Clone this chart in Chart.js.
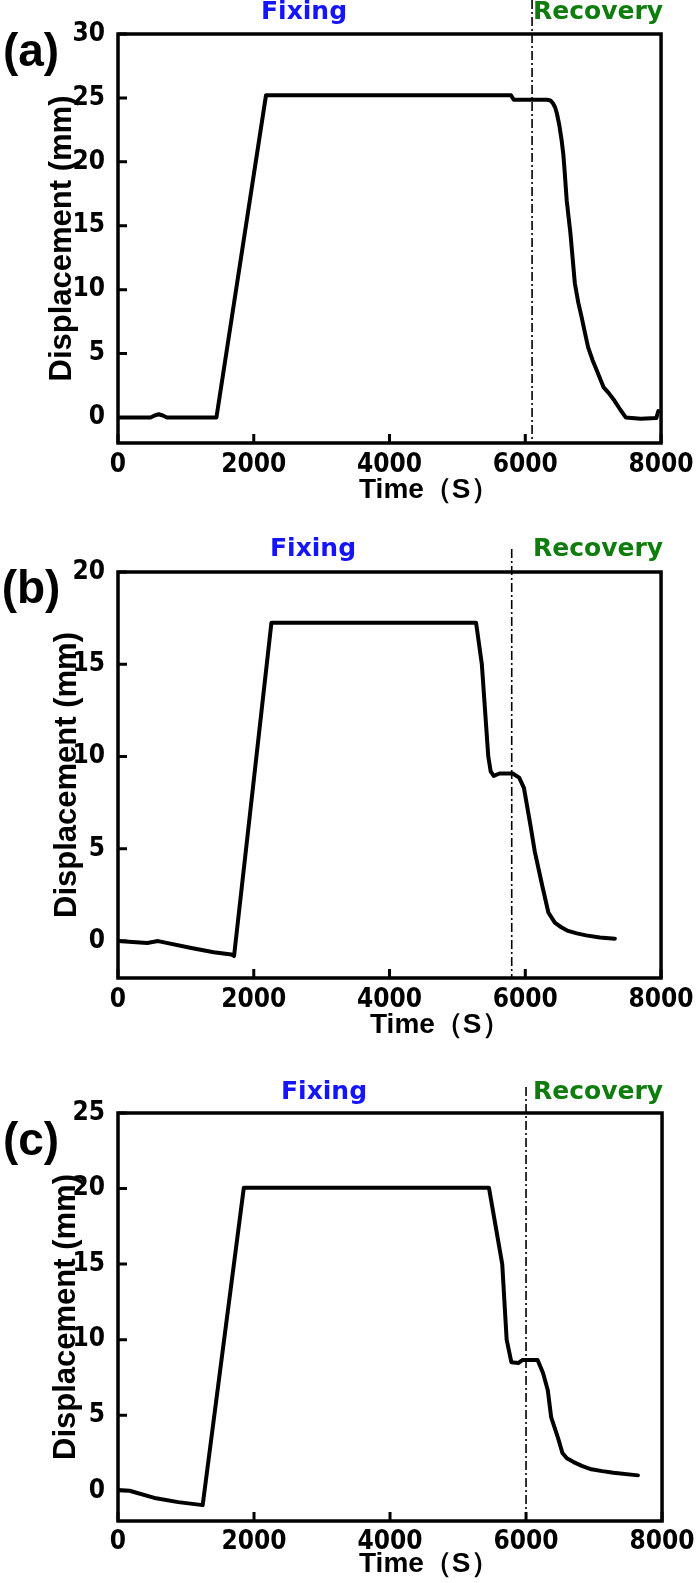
<!DOCTYPE html>
<html>
<head>
<meta charset="utf-8">
<script src="https://cdn.jsdelivr.net/npm/chart.js@4.4.1/dist/chart.umd.min.js"></script>
<style>
  html, body { margin: 0; padding: 0; background: #fff; }
  body { width: 700px; height: 1583px; position: relative; overflow: hidden; }
  .panel { position: absolute; left: 0; width: 700px; }
</style>
</head>
<body>
<div class="panel" style="top:0;height:520px"><canvas id="chartA"></canvas></div>
<div class="panel" style="top:520px;height:530px"><canvas id="chartB"></canvas></div>
<div class="panel" style="top:1050px;height:533px"><canvas id="chartC"></canvas></div>
<script>
const FONT = '"Liberation Sans", Arial, Helvetica, sans-serif';
const WIDE = '"DejaVu Sans", Verdana, sans-serif';
const TICKS = '"DejaVu Sans Condensed", "DejaVu Sans", sans-serif';

// shared time axis (s)
const xTicks = [0, 2000, 4000, 6000, 8000];

// (a)
const timeA = [0, 480, 540, 600, 660, 720, 1450, 2180, 5790, 5830, 6320, 6370, 6405, 6440, 6465, 6500, 6535, 6560, 6575, 6610, 6665, 6730, 6780, 6830, 6880, 6925, 6990, 7055, 7155, 7230, 7315, 7400, 7480, 7700, 7930, 7960];
const dispA = [0, 0, 0.15, 0.25, 0.15, 0, 0, 25.2, 25.2, 24.85, 24.85, 24.8, 24.6, 24.25, 23.8, 22.9, 21.7, 20.6, 19.6, 17.0, 14.4, 10.5, 9.0, 7.85, 6.6, 5.5, 4.5, 3.65, 2.35, 1.9, 1.3, 0.6, 0, -0.1, -0.05, 0.5];
const yTicksA = [0, 5, 10, 15, 20, 25, 30];
const yRangeA = [-2, 30];
const markerA = 6100;

// (b)
const timeB = [0, 430, 590, 1080, 1410, 1670, 1710, 2260, 5275, 5360, 5455, 5490, 5535, 5620, 5815, 5910, 5980, 6075, 6140, 6250, 6340, 6435, 6530, 6630, 6760, 6895, 7100, 7320];
const dispB = [0, -0.1, 0, -0.37, -0.6, -0.73, -0.8, 17.25, 17.25, 15.0, 10.0, 9.2, 8.95, 9.08, 9.08, 8.86, 8.3, 6.3, 4.85, 3.0, 1.55, 1.0, 0.75, 0.55, 0.42, 0.31, 0.2, 0.13];
const yTicksB = [0, 5, 10, 15, 20];
const yRangeB = [-2, 20];
const markerB = 5800;

// (c)
const timeC = [0, 170, 560, 885, 1245, 1850, 5455, 5650, 5715, 5785, 5885, 5945, 6170, 6250, 6320, 6370, 6470, 6535, 6600, 6700, 6820, 6960, 7120, 7285, 7645];
const dispC = [0.05, 0, -0.5, -0.75, -0.95, 20.05, 20.05, 15.0, 10.0, 8.5, 8.45, 8.65, 8.65, 7.8, 6.65, 4.85, 3.5, 2.5, 2.15, 1.9, 1.65, 1.42, 1.3, 1.2, 1.02];
const yTicksC = [0, 5, 10, 15, 20, 25];
const yRangeC = [-2, 25];
const markerC = 6000;

// page layout of each panel (canvas-local pixels)
const panels = [
  { id: 'chartA', tag: '(a)', time: timeA, disp: dispA, yTicks: yTicksA, yRange: yRangeA, marker: markerA,
    box: { height: 520, top: 34, bottom: 443, tickGap: 22, yTitleX: 62, tagY: 53, fixX: 261, textY: 12, markTop: 0, timeX: 359, timeY: 490 } },
  { id: 'chartB', tag: '(b)', time: timeB, disp: dispB, yTicks: yTicksB, yRange: yRangeB, marker: markerB,
    box: { height: 530, top: 52, bottom: 458, tickGap: 22, yTitleX: 67, tagY: 70, fixX: 270, textY: 29, markTop: 29, timeX: 370, timeY: 505 } },
  { id: 'chartC', tag: '(c)', time: timeC, disp: dispC, yTicks: yTicksC, yRange: yRangeC, marker: markerC,
    box: { height: 533, top: 63, bottom: 471, tickGap: 21, yTitleX: 66, tagY: 92, fixX: 281, textY: 42, markTop: 37, timeX: 359, timeY: 514 } }
];

function decorations(p) {
  const b = p.box;
  return {
    id: 'decorations',
    afterDraw(chart) {
      const { ctx, chartArea: a, scales: { x, y } } = chart;
      ctx.save();
      // frame
      ctx.strokeStyle = '#000';
      ctx.lineWidth = 3.5;
      ctx.strokeRect(a.left, a.top, a.right - a.left, a.bottom - a.top);
      // inward tick marks
      ctx.lineWidth = 3;
      ctx.beginPath();
      p.yTicks.forEach(v => {
        const py = y.getPixelForValue(v);
        ctx.moveTo(a.left, py); ctx.lineTo(a.left + 9, py);
      });
      xTicks.forEach(v => {
        const px = x.getPixelForValue(v);
        ctx.moveTo(px, a.bottom); ctx.lineTo(px, a.bottom - 9);
      });
      ctx.stroke();
      // dash-dot line between fixing and recovery
      const mx = x.getPixelForValue(p.marker);
      ctx.lineWidth = 1.6;
      ctx.setLineDash([9, 3, 2, 3]);
      ctx.beginPath();
      ctx.moveTo(mx, b.markTop); ctx.lineTo(mx, a.bottom);
      ctx.stroke();
      ctx.setLineDash([]);
      // texts
      ctx.fillStyle = '#000';
      ctx.textBaseline = 'middle';
      ctx.textAlign = 'center';
      ctx.font = 'bold 46px ' + FONT;
      ctx.fillText(p.tag, 31, b.tagY);
      ctx.textAlign = 'left';
      ctx.font = 'bold 28px ' + FONT;
      ctx.fillText('Time（S）', b.timeX, b.timeY);
      ctx.font = 'bold 25px ' + WIDE;
      ctx.fillStyle = '#1414ff';
      ctx.fillText('Fixing', b.fixX, b.textY);
      ctx.fillStyle = '#0e7d0e';
      ctx.fillText('Recovery', 533, b.textY);
      ctx.restore();
    }
  };
}

panels.forEach(p => {
  const b = p.box;
  new Chart(document.getElementById(p.id), {
    type: 'line',
    data: {
      datasets: [{
        data: p.time.map((t, i) => ({ x: t, y: p.disp[i] })),
        borderColor: '#000',
        borderWidth: 4,
        borderJoinStyle: 'round',
        borderCapStyle: 'round',
        pointRadius: 0,
        tension: 0,
        fill: false
      }]
    },
    options: {
      responsive: true,
      maintainAspectRatio: false,
      animation: false,
      events: [],
      layout: { padding: { top: b.top, right: 35, left: 0, bottom: 0 } },
      plugins: { legend: { display: false }, tooltip: { enabled: false } },
      scales: {
        x: {
          type: 'linear', min: 0, max: 8000,
          grid: { display: false, drawTicks: false },
          border: { display: false },
          afterBuildTicks: s => { s.ticks = xTicks.map(v => ({ value: v })); },
          afterFit: s => { s.height = b.height - b.bottom; },
          ticks: { color: '#000', font: { family: TICKS, size: 26, weight: 'bold' }, padding: b.tickGap - 15.6, maxRotation: 0, autoSkip: false, callback: v => String(v) }
        },
        y: {
          type: 'linear', min: p.yRange[0], max: p.yRange[1],
          grid: { display: false, drawTicks: false },
          border: { display: false },
          afterBuildTicks: s => { s.ticks = p.yTicks.map(v => ({ value: v })); },
          afterFit: s => { s.width = 118; },
          ticks: { color: '#000', font: { family: TICKS, size: 26, weight: 'bold' }, padding: 13, callback: v => String(v) },
          title: { display: true, text: 'Displacement (mm)', color: '#000', font: { family: FONT, size: 31, weight: 'bold' }, padding: { top: b.yTitleX - 18.6, bottom: 0 } }
        }
      }
    },
    plugins: [decorations(p)]
  });
});
</script>
</body>
</html>
